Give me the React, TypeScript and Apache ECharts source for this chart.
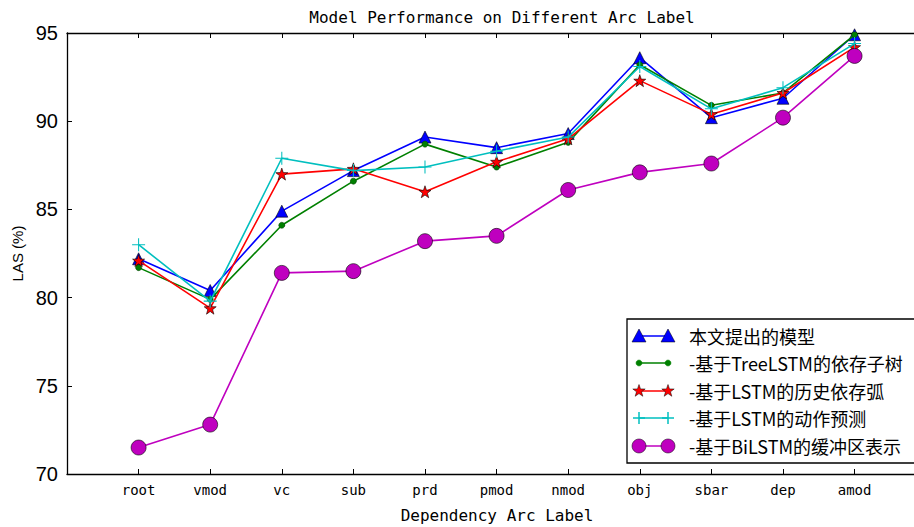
import React, { useEffect, useRef } from "react";
import * as echarts from "echarts";

const categories = ["root", "vmod", "vc", "sub", "prd", "pmod", "nmod", "obj", "sbar", "dep", "amod"];
const seriesNames = [
  "本文提出的模型",
  "-基于TreeLSTM的依存子树",
  "-基于LSTM的历史依存弧",
  "-基于LSTM的动作预测",
  "-基于BiLSTM的缓冲区表示",
];
const oursValues = [82.2, 80.4, 84.9, 87.2, 89.1, 88.5, 89.3, 93.6, 90.2, 91.3, 94.9];
const treeLstmValues = [81.7, 79.9, 84.1, 86.6, 88.7, 87.4, 88.8, 93.2, 90.9, 91.6, 94.9];
const lstmArcValues = [82.1, 79.4, 87.0, 87.3, 86.0, 87.7, 89.0, 92.3, 90.4, 91.6, 94.2];
const lstmActionValues = [83.0, 79.8, 87.9, 87.2, 87.4, 88.3, 89.1, 93.1, 90.7, 91.9, 94.4];
const biLstmValues = [71.5, 72.8, 81.4, 81.5, 83.2, 83.5, 86.1, 87.1, 87.6, 90.2, 93.7];
const yTicks = [70, 75, 80, 85, 90, 95];

const STAR =
  "path://M0,-10 L2.35,-3.24 L9.51,-3.09 L3.8,1.24 L5.88,8.09 L0,4 L-5.88,8.09 L-3.8,1.24 L-9.51,-3.09 L-2.35,-3.24 Z";
const PLUS =
  "path://M-0.8,-10 L0.8,-10 L0.8,-0.8 L10,-0.8 L10,0.8 L0.8,0.8 L0.8,10 L-0.8,10 L-0.8,0.8 L-10,0.8 L-10,-0.8 L-0.8,-0.8 Z";

const colors = ["#0000ff", "#008000", "#ff0000", "#00bfbf", "#bf00bf"];

function starPoints(cx: number, cy: number, r: number): number[][] {
  const pts: number[][] = [];
  for (let i = 0; i < 10; i++) {
    const rr = i % 2 === 0 ? r : r * 0.4;
    const a = -Math.PI / 2 + (i * Math.PI) / 5;
    pts.push([cx + rr * Math.cos(a), cy + rr * Math.sin(a)]);
  }
  return pts;
}

function legendMarker(kind: number, cx: number, cy: number): any[] {
  const c = colors[kind];
  if (kind === 0)
    return [{ type: "polygon", shape: { points: [[cx, cy - 7], [cx + 7, cy + 6], [cx - 7, cy + 6]] }, style: { fill: c, stroke: "#000", lineWidth: 0.5 } }];
  if (kind === 1)
    return [{ type: "circle", shape: { cx, cy, r: 3 }, style: { fill: c, stroke: c, lineWidth: 0.5 } }];
  if (kind === 2)
    return [{ type: "polygon", shape: { points: starPoints(cx, cy, 6.5) }, style: { fill: c, stroke: "#000", lineWidth: 0.5 } }];
  if (kind === 3)
    return [
      { type: "line", shape: { x1: cx - 6, y1: cy, x2: cx + 6, y2: cy }, style: { stroke: c, lineWidth: 1.5 } },
      { type: "line", shape: { x1: cx, y1: cy - 6, x2: cx, y2: cy + 6 }, style: { stroke: c, lineWidth: 1.5 } },
    ];
  return [{ type: "circle", shape: { cx, cy, r: 7 }, style: { fill: c, stroke: "#000", lineWidth: 0.5 } }];
}

// visible x extent: the plot continues past the right edge of the picture
const X_MIN = -1;
const X_MAX_VISIBLE = 10.83;

export default function App() {
  const ref = useRef<HTMLDivElement>(null);
  useEffect(() => {
    if (!ref.current) return;
    const chart = echarts.init(ref.current, null, { renderer: "svg" });
    const allValues = [oursValues, treeLstmValues, lstmArcValues, lstmActionValues, biLstmValues];
    const symbols = ["triangle", "circle", STAR, PLUS, "circle"];
    const sizes = [12, 6, 12, 13, 15];
    const borders = ["#000", "#004000", "#000", "transparent", "#000"];

    const legendX = 627;
    const legendY = 319;
    const rowYs = [336, 363, 391, 418, 446];
    const legendEls: any[] = [
      { type: "rect", shape: { x: legendX, y: legendY, width: 320, height: 144 }, style: { fill: "#fff", stroke: "#000", lineWidth: 1.3 }, z: 100 },
    ];
    seriesNames.forEach((name, i) => {
      const y = rowYs[i];
      legendEls.push({ type: "line", shape: { x1: 639, y1: y, x2: 668, y2: y }, style: { stroke: colors[i], lineWidth: 1.5 }, z: 101 });
      legendMarker(i, 639, y).forEach((e) => legendEls.push({ ...e, z: 102 }));
      legendMarker(i, 668, y).forEach((e) => legendEls.push({ ...e, z: 102 }));
      legendEls.push({
        type: "text",
        x: 689,
        y,
        z: 102,
        style: { text: name, fill: "#000", font: '18px "Noto Sans CJK SC"', verticalAlign: "middle", align: "left" },
      });
    });

    const fmt = (v: number) => (Number.isInteger(v) && v >= 0 && v < categories.length ? categories[v] : "");

    chart.setOption({
      animation: false,
      backgroundColor: "#fff",
      title: {
        text: "Model Performance on Different Arc Label",
        left: 497,
        textAlign: "center",
        top: 4,
        textStyle: { fontFamily: "DejaVu Sans Mono", fontSize: 16, fontWeight: "normal", color: "#000" },
      },
      grid: { left: 67, top: 33, bottom: 53, right: 0, show: false },
      xAxis: [
        {
          type: "value",
          min: X_MIN,
          max: X_MAX_VISIBLE,
          interval: 1,
          position: "bottom",
          name: "Dependency Arc Label",
          nameLocation: "start",
          nameGap: -430,
          nameTextStyle: { fontFamily: "DejaVu Sans Mono", fontSize: 16, color: "#000", align: "center", verticalAlign: "top", padding: [33, 0, 0, 0] },
          axisLine: { show: true, onZero: false, lineStyle: { color: "#000", width: 1.3 } },
          axisTick: { show: true, inside: true, length: 5, lineStyle: { color: "#000" } },
          splitLine: { show: false },
          axisLabel: {
            margin: 9,
            fontFamily: "DejaVu Sans Mono",
            fontSize: 14,
            color: "#000",
            showMaxLabel: false,
            formatter: fmt,
          },
        },
        {
          type: "value",
          min: X_MIN,
          max: X_MAX_VISIBLE,
          interval: 1,
          position: "top",
          axisLine: { show: true, onZero: false, lineStyle: { color: "#000", width: 1.3 } },
          axisTick: { show: true, inside: true, length: 5, lineStyle: { color: "#000" } },
          splitLine: { show: false },
          axisLabel: { show: false },
        },
      ],
      yAxis: {
        type: "value",
        min: yTicks[0],
        max: yTicks[yTicks.length - 1],
        interval: 5,
        name: "LAS (%)",
        nameLocation: "middle",
        nameGap: 42,
        nameTextStyle: { fontFamily: "Liberation Sans", fontSize: 15, color: "#000" },
        axisLine: { show: true, onZero: false, lineStyle: { color: "#000", width: 1.3 } },
        axisTick: { show: true, inside: true, length: 5, lineStyle: { color: "#000" } },
        splitLine: { show: false },
        axisLabel: { margin: 9, fontFamily: "Liberation Sans", fontSize: 20, color: "#000" },
      },
      series: allValues.map((vals, i) => ({
        type: "line",
        name: seriesNames[i],
        xAxisIndex: 0,
        data: vals.map((v, j) => [j, v]),
        symbol: symbols[i],
        symbolSize: sizes[i],
        showSymbol: true,
        clip: false,
        lineStyle: { color: colors[i], width: 1.6 },
        itemStyle: { color: colors[i], borderColor: borders[i], borderWidth: 0.6 },
        z: 2 + i,
      })),
      graphic: legendEls,
    });
    return () => chart.dispose();
  }, []);
  return <div ref={ref} style={{ position: "fixed", left: 0, top: 0, width: 914, height: 527 }} />;
}
